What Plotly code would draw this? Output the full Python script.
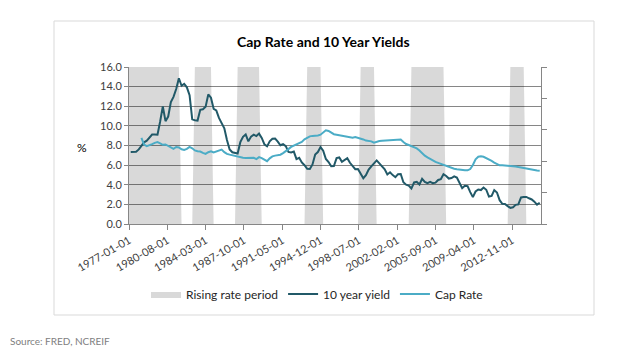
import pandas as pd
import plotly.graph_objects as go

# ---------------- data ----------------
# 10-year Treasury yield, quarterly (quarter-end months), starting 1977-03
yield_start = "1977-03-01"
yield_10y = [
    7.35, 7.37, 7.36, 7.60,
    8.01, 8.32, 8.49, 8.82,
    9.11, 9.11, 9.10, 10.45,
    11.99, 10.48, 10.95, 12.42,
    12.96, 13.75, 14.85, 14.09,
    14.29, 13.93, 13.12, 10.67,
    10.56, 10.54, 11.63, 11.69,
    11.94, 13.20, 12.87, 11.74,
    11.58, 10.81, 10.34, 9.76,
    8.56, 7.60, 7.31, 7.26,
    7.19, 8.34, 8.88, 9.12,
    8.42, 8.91, 9.10, 8.96,
    9.21, 8.77, 8.11, 7.91,
    8.42, 8.68, 8.70, 8.40,
    8.02, 8.13, 7.94, 7.35,
    7.30, 7.38, 6.62, 6.74,
    6.28, 5.99, 5.62, 5.61,
    6.07, 7.08, 7.33, 7.84,
    7.48, 6.62, 6.32, 5.89,
    5.91, 6.72, 6.78, 6.34,
    6.56, 6.70, 6.24, 5.91,
    5.59, 5.60, 5.20, 4.67,
    4.98, 5.54, 5.88, 6.14,
    6.48, 6.18, 5.89, 5.57,
    5.05, 5.27, 4.98, 4.77,
    5.08, 5.10, 4.26, 4.01,
    3.92, 3.62, 4.23, 4.29,
    4.02, 4.60, 4.30, 4.17,
    4.30, 4.16, 4.21, 4.49,
    4.57, 5.07, 4.90, 4.63,
    4.68, 4.85, 4.73, 4.26,
    3.66, 3.89, 3.86, 3.25,
    2.74, 3.31, 3.52, 3.46,
    3.72, 3.49, 2.79, 2.86,
    3.46, 3.21, 2.43, 2.05,
    2.04, 1.82, 1.64, 1.71,
    1.95, 2.00, 2.71, 2.75,
    2.76, 2.62, 2.50, 2.28,
    1.97, 2.17,
]

# Cap rate, quarterly (quarter-end months), starting 1978-03
cap_start = "1978-03-01"
cap_rate = [
    8.77, 8.09, 7.93, 8.01,
    8.14, 8.27, 8.35, 8.22,
    8.07, 8.11, 7.94, 7.74,
    7.66, 7.85, 7.80, 7.62,
    7.55, 7.65, 7.85, 7.72,
    7.50, 7.41, 7.39, 7.25,
    7.14, 7.31, 7.40, 7.29,
    7.38, 7.48, 7.58, 7.32,
    7.15, 7.07, 7.00, 6.92,
    6.83, 6.79, 6.75, 6.73,
    6.73, 6.78, 6.75, 6.62,
    6.81, 6.71, 6.55, 6.40,
    6.69, 6.89, 6.97, 7.02,
    7.06, 7.22, 7.40, 7.63,
    7.86, 7.99, 8.11, 8.22,
    8.37, 8.63, 8.82, 8.93,
    8.98, 8.98, 9.03, 9.10,
    9.30, 9.55, 9.48, 9.30,
    9.15, 9.10, 9.04, 9.02,
    8.99, 8.92, 8.81, 8.80,
    8.86, 8.80, 8.71, 8.62,
    8.50, 8.46, 8.42, 8.28,
    8.38, 8.45, 8.48, 8.50,
    8.53, 8.56, 8.58, 8.59,
    8.60, 8.60, 8.35, 8.15,
    8.05, 7.95, 7.86, 7.70,
    7.50, 7.18, 6.97, 6.79,
    6.62, 6.48, 6.33, 6.23,
    6.12, 6.02, 5.91, 5.79,
    5.70, 5.64, 5.59, 5.54,
    5.50, 5.47, 5.47, 5.60,
    6.02, 6.60, 6.86, 6.90,
    6.85, 6.74, 6.61, 6.44,
    6.26, 6.11, 5.98, 5.98,
    5.97, 5.93, 5.91, 5.89,
    5.87, 5.81, 5.75, 5.70,
    5.66, 5.62, 5.58, 5.52,
    5.45, 5.43,
]

# Rising rate periods (first and last full quarter)
rise_start = ["1977-01-01", "1983-03-01", "1987-03-01", "1993-09-01",
              "1998-09-01", "2003-06-01", "2012-09-01"]
rise_end = ["1981-09-01", "1984-09-01", "1989-03-01", "1994-12-01",
            "1999-12-01", "2006-06-01", "2013-12-01"]

# Category tick labels
tick_labels = ["1977-01-01", "1980-08-01", "1984-03-01", "1987-10-01",
               "1991-05-01", "1994-12-01", "1998-07-01", "2002-02-01",
               "2005-09-01", "2009-04-01", "2012-11-01"]
x_range = ["1977-01-01", "2015-07-15"]

# ---------------- build ----------------
yield_dates = pd.date_range(yield_start, periods=len(yield_10y), freq="3MS")
cap_dates = pd.date_range(cap_start, periods=len(cap_rate), freq="3MS")

quarter = pd.DateOffset(months=3)
rx, ry = [], []
for s, e in zip(rise_start, rise_end):
    s, e = pd.Timestamp(s), pd.Timestamp(e)
    rx += [s - quarter, s, e, e + quarter]
    ry += [0, 1, 1, 0]

DARK = "#215968"
LIGHT = "#4BACC6"
GRID = "#868686"
FONT = "Lato"

fig = go.Figure()
fig.add_trace(go.Scatter(
    x=rx, y=ry, name="Rising rate period", mode="lines",
    line=dict(width=0, color="rgba(0,0,0,0)"),
    fill="tozeroy", fillcolor="rgba(0,0,0,0.15)",
    yaxis="y", hoverinfo="skip"))
fig.add_trace(go.Scatter(
    x=yield_dates, y=yield_10y, name="10 year yield", mode="lines",
    line=dict(color=DARK, width=2), yaxis="y2"))
fig.add_trace(go.Scatter(
    x=cap_dates, y=cap_rate, name="Cap Rate", mode="lines",
    line=dict(color=LIGHT, width=2), yaxis="y2"))

# the page places the figure 8 px in from the top-left corner
OFF = 8
W, H = 632, 356
L, T = 129 - OFF, 67 - OFF
pw, ph = 412, 157
R, B = W - L - pw, H - T - ph


def px(x):
    return (x - OFF - L) / pw


def py(y):
    return (T + ph - (y - OFF)) / ph


fig.update_layout(
    width=W, height=H,
    margin=dict(l=L, r=R, t=T, b=B, autoexpand=False),
    paper_bgcolor="white", plot_bgcolor="white",
    font=dict(family=FONT, size=11, color="#404040"),
    showlegend=True,
    legend=dict(orientation="h", x=px(146), y=py(294), xanchor="left",
                yanchor="middle", font=dict(size=12, color="#262626"),
                bgcolor="rgba(0,0,0,0)", itemwidth=30, traceorder="normal"),
    xaxis=dict(type="date", range=x_range,
               tickvals=tick_labels, ticktext=tick_labels, tickangle=-30,
               ticks="outside", ticklen=5, tickcolor=GRID,
               showline=True, linecolor=GRID, linewidth=1,
               showgrid=False, zeroline=False, automargin=False,
               tickfont=dict(size=11, color="#404040")),
    yaxis=dict(range=[0, 1], side="right",
               tickvals=[0, 0.2, 0.4, 0.6, 0.8, 1.0],
               showticklabels=False, ticks="outside", ticklen=5,
               tickcolor=GRID, showline=True, linecolor=GRID,
               showgrid=False, zeroline=False, fixedrange=True,
               automargin=False),
    yaxis2=dict(range=[0, 16], overlaying="y", side="left", anchor="x",
                dtick=2, tick0=0, tickformat=".1f",
                ticks="outside", ticklen=4, tickcolor=GRID,
                showline=True, linecolor=GRID,
                showgrid=True, gridcolor=GRID, gridwidth=1,
                zeroline=False, automargin=False,
                tickfont=dict(size=11, color="#404040")),
    shapes=[dict(type="rect", xref="paper", yref="paper",
                 x0=px(54), x1=px(594), y0=py(315), y1=py(21),
                 line=dict(color="#d9d9d9", width=1), fillcolor="rgba(0,0,0,0)",
                 layer="below")],
    annotations=[
        dict(text="<b>Cap Rate and 10 Year Yields</b>", xref="paper", yref="paper",
             x=px(323.5), y=py(41), xanchor="center", yanchor="middle",
             showarrow=False, font=dict(size=14, color="#000000", family=FONT)),
        dict(text="%", xref="paper", yref="paper", x=px(82), y=py(147),
             xanchor="center", yanchor="middle", showarrow=False,
             font=dict(size=12, color="#000000")),
        dict(text="Source: FRED, NCREIF", xref="paper", yref="paper",
             x=px(8), y=py(341), xanchor="left", yanchor="middle",
             showarrow=False, font=dict(size=10, color="#808080")),
    ],
)

fig.write_html("out.html")
